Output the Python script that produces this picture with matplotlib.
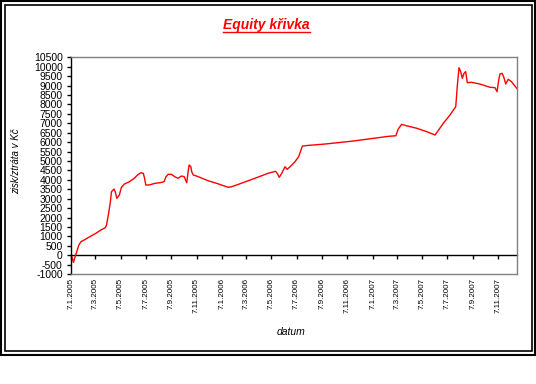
import matplotlib
matplotlib.use("Agg")
import matplotlib.pyplot as plt
import pandas as pd
from matplotlib.patches import Rectangle
from matplotlib.lines import Line2D

# equity curve (date, CZK)
dates = [
    "2005-01-07", "2005-01-13", "2005-01-17", "2005-01-26", "2005-01-31",
    "2005-02-12", "2005-02-24", "2005-03-08", "2005-03-20", "2005-03-31",
    "2005-04-03", "2005-04-08", "2005-04-12", "2005-04-15", "2005-04-21",
    "2005-04-24", "2005-04-28", "2005-05-04", "2005-05-09", "2005-05-16",
    "2005-05-28", "2005-06-09", "2005-06-17", "2005-06-25", "2005-07-01",
    "2005-07-04", "2005-07-07", "2005-07-15", "2005-07-30", "2005-08-10",
    "2005-08-20", "2005-08-25", "2005-08-30", "2005-09-07", "2005-09-15",
    "2005-09-23", "2005-10-01", "2005-10-08", "2005-10-14", "2005-10-18",
    "2005-10-20", "2005-10-24", "2005-10-26", "2005-10-30", "2005-11-11",
    "2005-12-05", "2005-12-25", "2006-01-23", "2006-01-31", "2006-02-18",
    "2006-03-28", "2006-04-29", "2006-05-17", "2006-05-21", "2006-05-26",
    "2006-06-01", "2006-06-09", "2006-06-14", "2006-06-23", "2006-07-03",
    "2006-07-12", "2006-07-17", "2006-07-21", "2006-08-04", "2006-08-24",
    "2006-09-13", "2006-11-21", "2007-02-14", "2007-03-04", "2007-03-10",
    "2007-03-18", "2007-03-30", "2007-04-24", "2007-05-18", "2007-06-07",
    "2007-06-27", "2007-07-13", "2007-07-27", "2007-07-31", "2007-08-04",
    "2007-08-08", "2007-08-12", "2007-08-16", "2007-08-20", "2007-08-24",
    "2007-09-03", "2007-09-23", "2007-10-18", "2007-10-30", "2007-11-04",
    "2007-11-08", "2007-11-11", "2007-11-16", "2007-11-20", "2007-11-25",
    "2007-12-01", "2007-12-09", "2007-12-23",
]
equity = [
    50, -370, -75, 545, 720,
    865, 1020, 1165, 1340, 1465,
    1605, 2225, 2790, 3375, 3515,
    3375, 3020, 3200, 3605, 3780,
    3900, 4085, 4260, 4380, 4350,
    4085, 3730, 3730, 3820, 3850,
    3900, 4170, 4295, 4295, 4170,
    4085, 4205, 4170, 3850, 4525,
    4790, 4700, 4435, 4260, 4170,
    3955, 3820, 3605, 3640, 3780,
    4085, 4350, 4455, 4350, 4135,
    4350, 4700, 4560, 4735, 4965,
    5230, 5550, 5795, 5830, 5865,
    5900, 6060, 6310, 6340, 6700,
    6945, 6870, 6735, 6555, 6380,
    7000, 7440, 7880, 9030, 9950,
    9740, 9385, 9650, 9740, 9155,
    9175, 9085, 8910, 8890, 8675,
    9300, 9615, 9650, 9470, 9085,
    9335, 9205, 8820,
]
tick_dates = ["2005-01-07", "2005-03-07", "2005-05-07", "2005-07-07", "2005-09-07",
              "2005-11-07", "2006-01-07", "2006-03-07", "2006-05-07", "2006-07-07",
              "2006-09-07", "2006-11-07", "2007-01-07", "2007-03-07", "2007-05-07",
              "2007-07-07", "2007-09-07", "2007-11-07"]
y_ticks = list(range(-1000, 10501, 500))

x = pd.to_datetime(dates)
xt = pd.to_datetime(tick_dates)
ymin, ymax = -1000, 10500

fig = plt.figure(figsize=(5.36, 3.84), dpi=100)
ax = fig.add_axes([71 / 536, 1 - 274.2 / 384, (517.3 - 71) / 536, (274.2 - 57.3) / 384])

ax.plot(x, equity, color="#ff0000", lw=1.0)
ax.set_xlim(x[0], x[-1])
ax.set_ylim(ymin, ymax)

# frame of the plot area: gray box, black value axis
for s in ("top", "right", "bottom"):
    ax.spines[s].set_color("#808080")
    ax.spines[s].set_linewidth(1.0)
ax.spines["left"].set_color("black")
ax.spines["left"].set_linewidth(1.0)

ax.set_yticks(y_ticks)
ax.set_yticklabels([str(v) for v in y_ticks], fontsize=7.5, family=["Liberation Sans", "DejaVu Sans"])
ax.tick_params(axis="y", direction="out", length=3, width=1, pad=3)

# date labels sit under the plot area, tick marks sit on the zero line
ax.set_xticks(xt)
ax.set_xticklabels([f"{d.day}.{d.month}.{d.year}" for d in xt], rotation=90, va="top", ha="center",
                   fontsize=5.8, family=["Liberation Sans Narrow", "Liberation Sans", "DejaVu Sans"])
ax.tick_params(axis="x", length=0, pad=3)

zero = ax.secondary_xaxis((0 - ymin) / (ymax - ymin))
zero.set_xticks(xt)
zero.set_xticklabels([])
zero.tick_params(axis="x", direction="out", length=3, width=1, color="black")
zero.spines["bottom"].set_color("black")
zero.spines["bottom"].set_linewidth(1.0)

ax.set_ylabel("zisk/ztráta v Kč", fontsize=7, style="italic", family=["Liberation Sans", "DejaVu Sans"])
ax.yaxis.set_label_coords(-(71 - 21) / (517.3 - 71), (274.2 - 161) / (274.2 - 57.3))
ax.set_xlabel("datum", fontsize=7.5, style="italic", family=["Liberation Sans", "DejaVu Sans"])
ax.xaxis.set_label_coords((291.5 - 71) / (517.3 - 71), -(332 - 274.2) / (274.2 - 57.3))
ax.xaxis.label.set_va("center")

title = fig.text(266.5 / 536, 1 - 25 / 384, "Equity křivka", color="#ff0000", fontsize=10,
                 fontweight="bold", style="italic", ha="center", va="center",
                 family=["Liberation Sans", "DejaVu Sans"])

# double border round the whole chart
fig.add_artist(Rectangle((1 / 536, 1 - 355 / 384), 534 / 536, 354 / 384, transform=fig.transFigure,
                         fill=False, edgecolor="black", lw=1.5))
fig.add_artist(Rectangle((5 / 536, 1 - 351 / 384), 526.5 / 536, 346 / 384, transform=fig.transFigure,
                         fill=False, edgecolor="black", lw=1.2))

# underline the title
fig.canvas.draw()
bb = title.get_window_extent().transformed(fig.transFigure.inverted())
fig.add_artist(Line2D([bb.x0, bb.x1], [bb.y0 + 0.5 / 384, bb.y0 + 0.5 / 384], transform=fig.transFigure,
                      color="#ff0000", lw=1.0))

fig.savefig("out.png", dpi=100)
